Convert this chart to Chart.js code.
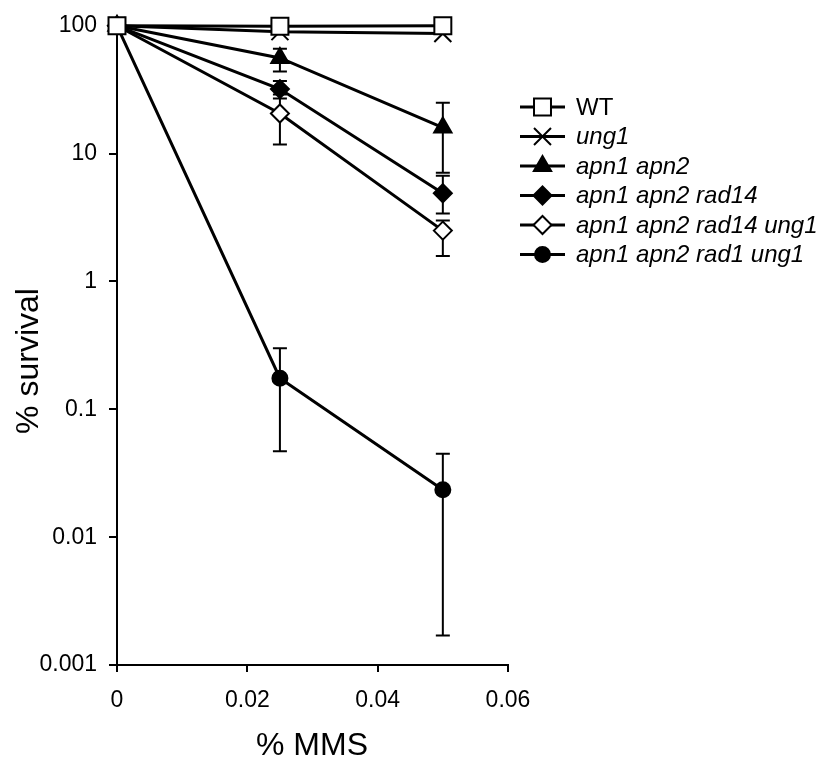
<!DOCTYPE html>
<html>
<head>
<meta charset="utf-8">
<script src="https://cdn.jsdelivr.net/npm/chart.js@4/dist/chart.umd.min.js"></script>
<style>
  html, body { margin: 0; padding: 0; background: #fff; }
  #wrap { width: 832px; height: 758px; position: relative; }
</style>
</head>
<body>
<div id="wrap"><canvas id="survivalChart" width="832" height="758"></canvas></div>
<script>
// % MMS doses
const doses = [0, 0.025, 0.05];

// % survival per strain, with upper / lower error bar ends
const wt = [100, 99, 100];
const ung1 = [100, 90, 87];
const apn1apn2 = [100, 56, 16];
const apn1apn2Hi = [null, 66, 25];
const apn1apn2Lo = [null, 44, 7.1];
const rad14 = [100, 32, 4.9];
const rad14Hi = [null, 37, 6.7];
const rad14Lo = [null, 27, 3.4];
const rad14ung1 = [100, 20.6, 2.5];
const rad14ung1Hi = [null, 29, 3.0];
const rad14ung1Lo = [null, 11.8, 1.58];
const rad1ung1 = [100, 0.175, 0.0235];
const rad1ung1Hi = [null, 0.30, 0.045];
const rad1ung1Lo = [null, 0.047, 0.0017];

const yTicks = [0.001, 0.01, 0.1, 1, 10, 100];
const xTicks = [0, 0.02, 0.04, 0.06];

const FONT = "'Liberation Sans', Arial, sans-serif";

function points(values) {
    return values.map((v, i) => ({ x: doses[i], y: v }));
}

function makeSet(label, values, hi, lo, style, italic) {
    return {
        label: label,
        data: points(values),
        errHi: hi,
        errLo: lo,
        italic: italic,
        borderColor: '#000',
        borderWidth: 3,
        pointStyle: style.shape,
        pointRadius: style.r,
        pointBackgroundColor: style.fill,
        pointBorderColor: '#000',
        pointBorderWidth: 2,
        tension: 0,
        fill: false,
        clip: false
    };
}

// vertical error bars with caps, drawn behind the markers
const errorBars = {
    id: 'errorBars',
    beforeDatasetsDraw(chart) {
        const ctx = chart.ctx;
        const xs = chart.scales.x, ys = chart.scales.y;
        ctx.save();
        ctx.strokeStyle = '#000';
        ctx.lineWidth = 2;
        chart.data.datasets.forEach(ds => {
            if (!ds.errHi) return;
            ds.data.forEach((p, i) => {
                const hi = ds.errHi[i], lo = ds.errLo[i];
                if (hi == null || lo == null) return;
                const px = xs.getPixelForValue(p.x);
                const yh = ys.getPixelForValue(hi);
                const yl = ys.getPixelForValue(lo);
                ctx.beginPath();
                ctx.moveTo(px, yh); ctx.lineTo(px, yl);
                ctx.moveTo(px - 7, yh); ctx.lineTo(px + 7, yh);
                ctx.moveTo(px - 7, yl); ctx.lineTo(px + 7, yl);
                ctx.stroke();
            });
        });
        ctx.restore();
    }
};

// legend to the right + axis titles
const sideLegend = {
    id: 'sideLegend',
    afterDraw(chart) {
        const ctx = chart.ctx;
        const x0 = 520, x1 = 565, tx = 576, top = 107, step = 29.5;
        ctx.save();
        chart.data.datasets.forEach((ds, i) => {
            const y = top + i * step;
            ctx.strokeStyle = '#000';
            ctx.lineWidth = 3;
            ctx.beginPath();
            ctx.moveTo(x0, y); ctx.lineTo(x1, y);
            ctx.stroke();
            ctx.fillStyle = ds.pointBackgroundColor;
            ctx.strokeStyle = '#000';
            ctx.lineWidth = 2;
            Chart.helpers.drawPoint(ctx, {
                pointStyle: ds.pointStyle,
                radius: ds.pointRadius,
                rotation: 0,
                borderWidth: 2
            }, (x0 + x1) / 2, y);
            ctx.fillStyle = '#000';
            ctx.font = (ds.italic ? 'italic ' : '') + '24px ' + FONT;
            ctx.textBaseline = 'middle';
            ctx.textAlign = 'left';
            ctx.fillText(ds.label, tx, y + 1);
        });

        // axis titles
        ctx.fillStyle = '#000';
        ctx.font = '32px ' + FONT;
        ctx.textAlign = 'center';
        ctx.textBaseline = 'middle';
        ctx.fillText('% MMS', 312, 746);
        ctx.translate(29, 361);
        ctx.rotate(-Math.PI / 2);
        ctx.fillText('% survival', 0, 0);
        ctx.restore();
    }
};

const ctx = document.getElementById('survivalChart').getContext('2d');
const chart = new Chart(ctx, {
    type: 'line',
    data: {
        datasets: [
            makeSet('WT', wt, null, null, { shape: 'rect', r: 12, fill: '#fff' }, false),
            makeSet('ung1', ung1, null, null, { shape: 'crossRot', r: 12, fill: '#000' }, true),
            makeSet('apn1 apn2', apn1apn2, apn1apn2Hi, apn1apn2Lo, { shape: 'triangle', r: 10, fill: '#000' }, true),
            makeSet('apn1 apn2 rad14', rad14, rad14Hi, rad14Lo, { shape: 'rectRot', r: 9, fill: '#000' }, true),
            makeSet('apn1 apn2 rad14 ung1', rad14ung1, rad14ung1Hi, rad14ung1Lo, { shape: 'rectRot', r: 9, fill: '#fff' }, true),
            makeSet('apn1 apn2 rad1 ung1', rad1ung1, rad1ung1Hi, rad1ung1Lo, { shape: 'circle', r: 7.5, fill: '#000' }, true)
        ]
    },
    options: {
        responsive: false,
        animation: false,
        events: [],
        layout: { padding: { left: 0, right: 324, top: 25, bottom: 0 } },
        plugins: {
            legend: { display: false },
            tooltip: { enabled: false }
        },
        scales: {
            x: {
                type: 'linear',
                min: 0,
                max: 0.06,
                afterBuildTicks: s => { s.ticks = xTicks.map(v => ({ value: v })); },
                afterFit: s => { s.height = 93; },
                ticks: {
                    color: '#000',
                    font: { family: FONT, size: 23 },
                    padding: 15,
                    maxRotation: 0,
                    callback: v => String(v)
                },
                grid: { drawOnChartArea: false, drawTicks: true, tickLength: 7, color: '#000', lineWidth: 2 },
                border: { display: true, color: '#000', width: 2 }
            },
            y: {
                type: 'logarithmic',
                min: 0.001,
                max: 100,
                afterBuildTicks: s => { s.ticks = yTicks.map(v => ({ value: v })); },
                afterFit: s => { s.width = 117; },
                ticks: {
                    color: '#000',
                    font: { family: FONT, size: 23 },
                    padding: 12,
                    callback: v => String(v)
                },
                grid: { drawOnChartArea: false, drawTicks: true, tickLength: 8, color: '#000', lineWidth: 2 },
                border: { display: true, color: '#000', width: 2 }
            }
        }
    },
    plugins: [errorBars, sideLegend]
});
</script>
</body>
</html>
